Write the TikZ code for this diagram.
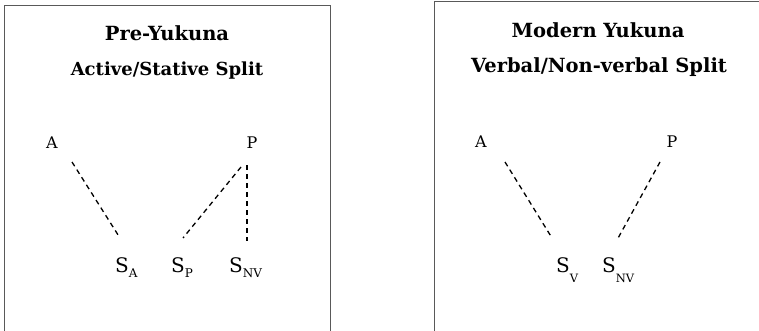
\documentclass[tikz,border=0pt]{standalone}
\usepackage{fontspec}
\setmainfont{DejaVu Serif}
\begin{document}
\begin{tikzpicture}[x=1pt,y=-1pt,
  frame/.style={draw=black!65,line width=1pt},
  ttl/.style={font=\fontsize{19.5}{22}\selectfont\bfseries,anchor=center,inner sep=0pt},
  lbl/.style={font=\fontsize{16}{18}\selectfont,anchor=center,inner sep=0pt},
  slbl/.style={font=\fontsize{20}{22}\selectfont,anchor=base west,inner sep=0pt},
  link/.style={dash pattern=on 5pt off 4pt,line width=1.3pt}]
\useasboundingbox (0,0) rectangle (759,331);
% frames
\draw[frame] (4.5,340) -- (4.5,5.5) -- (330.5,5.5) -- (330.5,340);
\draw[frame] (434,340) -- (434,1.5) -- (770,1.5);
% left panel
\node[ttl] (t1) at (167,33) {Pre-Yukuna};
\node[ttl,font=\fontsize{18}{20}\selectfont\bfseries] (t2) at (167,71) {Active/Stative Split};
\node[lbl] (A1) at (52,143) {A};
\node[lbl] (P1) at (252,143) {P};
\node[slbl] (SA) at (115,272) {S\raisebox{-5pt}{\fontsize{12}{14}\selectfont A}};
\node[slbl] (SP) at (171,272) {S\raisebox{-5pt}{\fontsize{12}{14}\selectfont P}};
\node[slbl] (SNV1) at (229,272) {S\raisebox{-5pt}{\fontsize{12}{14}\selectfont NV}};
\coordinate (a1s) at (72,162); \coordinate (a1e) at (120,238);
\coordinate (p1s) at (241,167); \coordinate (p1e) at (183,238);
\coordinate (p2s) at (247,165); \coordinate (p2e) at (247,241);
\draw[link] (a1s) -- (a1e);
\draw[link] (p1s) -- (p1e);
\draw[link,line width=1.1pt] (p2s) -- (p2e);
% right panel
\node[ttl] (t3) at (598,30) {Modern Yukuna};
\node[ttl] (t4) at (599,67) {Verbal/Non-verbal Split};
\node[lbl] (A2) at (481,142) {A};
\node[lbl] (P2) at (672,142) {P};
\node[slbl] (SV) at (556,272) {S\raisebox{-10pt}{\fontsize{11.5}{13}\selectfont V}};
\node[slbl] (SNV2) at (602,272) {S\raisebox{-10pt}{\fontsize{11.5}{13}\selectfont NV}};
\coordinate (a2s) at (505,162); \coordinate (a2e) at (552,238);
\coordinate (p3s) at (660,162); \coordinate (p3e) at (617,240);
\draw[link] (a2s) -- (a2e);
\draw[link] (p3s) -- (p3e);
\end{tikzpicture}
\end{document}
